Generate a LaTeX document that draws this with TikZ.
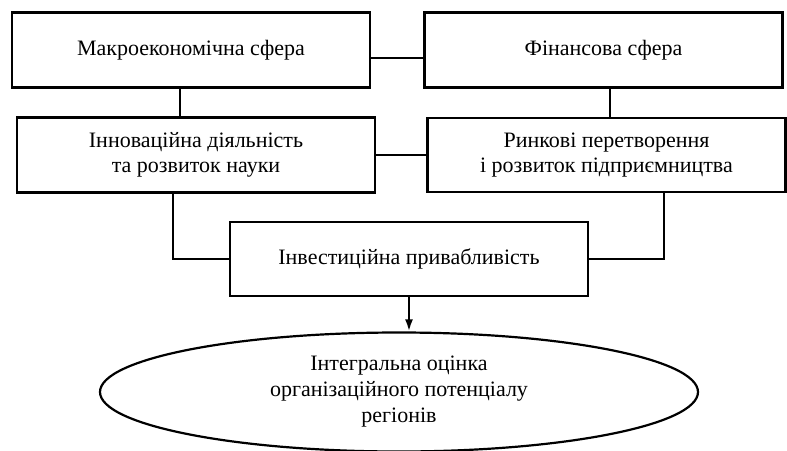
\documentclass[tikz,border=0pt]{standalone}
\usepackage{fontspec}
\setmainfont{Liberation Serif}
\usetikzlibrary{arrows.meta,shapes.geometric}
\begin{document}
\begin{tikzpicture}[x=0.5pt,y=-0.5pt,line width=1.1pt,
  box/.style={draw,rectangle,minimum width=179pt,minimum height=37.5pt,align=center,inner sep=0pt,font=\fontsize{11}{12.2}\selectfont},
  oval/.style={draw,ellipse,minimum width=299pt,minimum height=59.5pt,align=center,inner sep=0pt,font=\fontsize{11}{13}\selectfont}]
\clip (0,0) rectangle (787,450);
\useasboundingbox (0,0) rectangle (787,450);
\node[box] (macro) at (191,50) {Макроекономічна сфера};
\node[box] (fin) at (603.5,50) {Фінансова сфера};
\node[box] (innov) at (196,155) {Інноваційна діяльність\\та розвиток науки};
\node[box,minimum height=37pt] (market) at (606.5,155) {Ринкові перетворення\\і розвиток підприємництва};
\node[box,minimum height=37pt] (invest) at (409,259) {Інвестиційна привабливість};
\node[oval] (integral) at (399,392) {Інтегральна оцінка\\організаційного потенціалу\\регіонів};
% links between spheres
\draw ([yshift=-4pt]macro.east) -- ([yshift=-4pt]macro.east -| fin.west);
\draw ([xshift=-5.5pt]macro.south) -- ([xshift=-5.5pt]macro.south |- innov.north);
\draw ([xshift=3.25pt]fin.south) -- ([xshift=3.25pt]fin.south |- market.north);
\draw (innov.east) -- (innov.east -| market.west);
\draw ([xshift=-11.5pt]innov.south) |- (invest.west);
\draw ([xshift=28.75pt]market.south) |- (invest.east);
\draw[-{Latex[length=6pt,width=4pt]}] (invest.south) -- (invest.south |- integral.north);
\end{tikzpicture}
\end{document}
